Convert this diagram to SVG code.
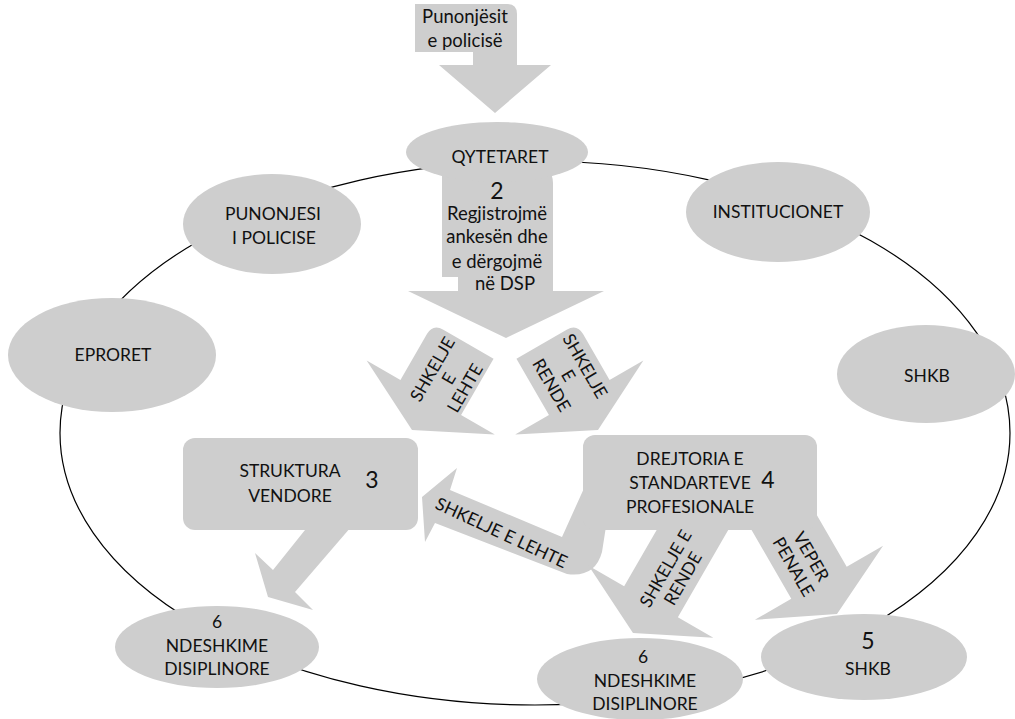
<svg xmlns="http://www.w3.org/2000/svg" width="1015" height="719" viewBox="0 0 1015 719">
<style>
.s{fill:#cecece;stroke:none}
.t{font-family:Lato,"Liberation Sans",sans-serif;font-size:17.5px;fill:#111;text-anchor:middle}
.l{font-size:18.5px}
.d{font-size:23px}
</style>
<rect width="1015" height="719" fill="#ffffff"/>
<g id="connectors">
<ellipse cx="535" cy="433" rx="475" ry="272" fill="none" stroke="#000" stroke-width="1.2"/>
<path id="arrow-top" class="s" d="M415 4 L507 4 Q517 4 517 14 L517 65 L551 65 L495 113 L439 65 L473 65 L473 52 L415 52 Z"/>
<path id="arrow-2" class="s" d="M442 168 L538 168 Q553 168 553 183 L553 291 L604 291 L506 338 L408 291 L458 291 L458 277 L442 277 Z"/>
<path id="arrow-lehte" class="s" transform="translate(412,430) rotate(30)" d="M0 0 L-74 -37.5 L-35 -37.5 L-35 -90.5 Q-35 -102.5 -23 -102.5 L35 -102.5 L35 -37.5 L74 -37.5 Z"/>
<path id="arrow-rende" class="s" transform="translate(598,430) rotate(-30)" d="M0 0 L74 -37.5 L35 -37.5 L35 -90.5 Q35 -102.5 23 -102.5 L-35 -102.5 L-35 -37.5 L-74 -37.5 Z"/>
<path id="arrow-3-6" class="s" d="M313 520 L273 570 L255 553 L268 597 L313 610 L295 592 L357 520 Z"/>
<path id="arrow-4-3" class="s" d="M607 520 L602 552 Q595 578 567 574 L435 523 L425 542 L422 497 L457 468 L450 490 L562 537 L590 475 L600 470 Z"/>
<path id="arrow-4-6" class="s" transform="translate(633,633) rotate(30)" d="M0 0 L-72 -36 L-31 -36 L-31 -150 L31 -150 L31 -36 L72 -36 Z"/>
<path id="arrow-4-5" class="s" transform="translate(837,614) rotate(-30)" d="M0 0 L-74 -36 L-32 -36 L-32 -160 L32 -160 L32 -36 L74 -36 Z"/>
</g>
<g id="n-punonjesit-arrow-text">
<text class="t l" x="465" y="23">Punonjësit</text>
<text class="t l" x="465" y="47">e policisë</text>
</g>
<g id="n-qytetaret">
<ellipse class="s" cx="497" cy="152" rx="91" ry="30"/>
<text class="t" x="500" y="163">QYTETARET</text>
</g>
<g id="n-2">
<text class="t d" x="497" y="199">2</text>
<text class="t l" x="497" y="220">Regjistrojmë</text>
<text class="t l" x="497" y="243">ankesën dhe</text>
<text class="t l" x="497" y="268">e dërgojmë</text>
<text class="t l" x="505" y="290">në DSP</text>
</g>
<g id="l-lehte">
<text class="t" transform="translate(448.5,378.5) rotate(-60)"><tspan x="0" y="-12.5">SHKELJE</tspan><tspan x="0" y="6.3">E</tspan><tspan x="0" y="25.1">LEHTE</tspan></text>
</g>
<g id="l-rende">
<text class="t" transform="translate(568.5,375.5) rotate(60)"><tspan x="0" y="-13">SHKELJE</tspan><tspan x="0" y="6.3">E</tspan><tspan x="0" y="25.6">RENDE</tspan></text>
</g>
<g id="n-punonjesi">
<ellipse class="s" cx="272" cy="224" rx="89" ry="50"/>
<text class="t" x="273" y="220">PUNONJESI</text>
<text class="t" x="274" y="244">I POLICISE</text>
</g>
<g id="n-eproret">
<ellipse class="s" cx="112" cy="355" rx="104" ry="57"/>
<text class="t" x="113" y="361">EPRORET</text>
</g>
<g id="n-institucionet">
<ellipse class="s" cx="778" cy="212" rx="92" ry="50"/>
<text class="t" x="778" y="218">INSTITUCIONET</text>
</g>
<g id="n-shkb">
<ellipse class="s" cx="926" cy="374" rx="89" ry="49"/>
<text class="t" x="927" y="382">SHKB</text>
</g>
<g id="n-struktura">
<rect class="s" x="183" y="438" width="235" height="92" rx="12"/>
<text class="t" x="290" y="477">STRUKTURA</text>
<text class="t" x="290" y="502">VENDORE</text>
<text class="t d" x="372" y="488">3</text>
</g>
<g id="n-dsp">
<rect class="s" x="583" y="435" width="234" height="95" rx="12"/>
<text class="t" x="690" y="465">DREJTORIA E</text>
<text class="t" x="690" y="489">STANDARTEVE</text>
<text class="t" x="690" y="513">PROFESIONALE</text>
<text class="t d" x="768" y="488">4</text>
</g>
<g id="l-4-3">
<text class="t" transform="translate(501.5,532.5) rotate(25)" x="0" y="6.3">SHKELJE E LEHTE</text>
</g>
<g id="l-4-6">
<text class="t" transform="translate(674,573.5) rotate(-60)"><tspan x="0" y="-3.7">SHKELJE E</tspan><tspan x="0" y="16.3">RENDE</tspan></text>
</g>
<g id="l-4-5">
<text class="t" transform="translate(802.5,561.5) rotate(60)"><tspan x="0" y="-4">VEPER</tspan><tspan x="0" y="16.6">PENALE</tspan></text>
</g>
<g id="n-6-left">
<ellipse class="s" cx="217" cy="647" rx="102" ry="41"/>
<text class="t" x="217" y="628">6</text>
<text class="t" x="217" y="652">NDESHKIME</text>
<text class="t" x="217" y="675">DISIPLINORE</text>
</g>
<g id="n-6-mid">
<ellipse class="s" cx="640" cy="679" rx="103" ry="41"/>
<text class="t" x="643" y="663">6</text>
<text class="t" x="645" y="687">NDESHKIME</text>
<text class="t" x="645" y="710">DISIPLINORE</text>
</g>
<g id="n-5-shkb">
<ellipse class="s" cx="864" cy="657" rx="103" ry="43"/>
<text class="t d" x="868" y="649">5</text>
<text class="t" x="868" y="675">SHKB</text>
</g>
</svg>
